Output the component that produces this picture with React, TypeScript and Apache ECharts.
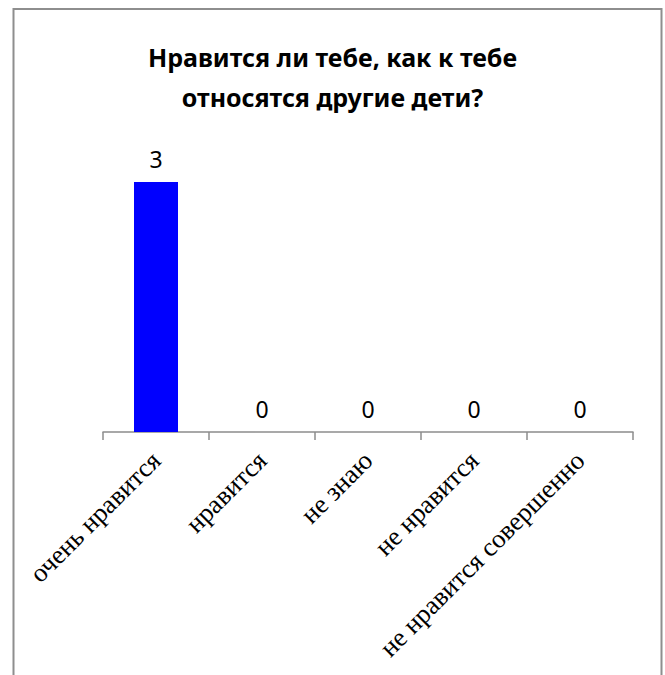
import React, { useEffect, useRef } from "react";
import * as echarts from "echarts";

const titleLines = ["Нравится ли тебе, как к тебе", "относятся другие дети?"];
const categories = ["очень нравится", "нравится", "не знаю", "не нравится", "не нравится совершенно"];
const values = [3, 0, 0, 0, 0];

export default function App() {
  const ref = useRef<HTMLDivElement>(null);
  useEffect(() => {
    document.body.style.margin = "0";
    const chart = echarts.init(ref.current!, null, { renderer: "svg" });
    chart.setOption({
      animation: false,
      backgroundColor: "#ffffff",
      title: {
        text: titleLines.join("\n"),
        left: "center",
        top: 32,
        textStyle: {
          fontFamily: "Noto Sans",
          fontWeight: "bold",
          fontSize: 25,
          lineHeight: 40,
          color: "#000000",
        },
      },
      graphic: [
        {
          type: "rect",
          shape: { x: 13.5, y: 9, width: 648, height: 700 },
          style: { fill: "none", stroke: "#8e8e8e", lineWidth: 2 },
          silent: true,
        },
      ],
      grid: { left: 103, right: 32, top: 182, bottom: 243, containLabel: false },
      xAxis: {
        type: "category",
        data: categories,
        boundaryGap: true,
        axisLine: { show: true, lineStyle: { color: "#8c8c8c", width: 1.5 } },
        axisTick: { show: true, alignWithLabel: false, length: 8, lineStyle: { color: "#8c8c8c", width: 1.5 } },
        axisLabel: {
          rotate: 45,
          interval: 0,
          margin: 24,
          fontFamily: "Liberation Serif",
          fontSize: 26.5,
          color: "#000000",
        },
        splitLine: { show: false },
      },
      yAxis: {
        type: "value",
        min: 0,
        max: 3,
        show: false,
        splitLine: { show: false },
      },
      series: [
        {
          type: "bar",
          data: values,
          barWidth: 44,
          itemStyle: { color: "#0000ff" },
          label: {
            show: true,
            position: "top",
            distance: 12,
            fontFamily: "Noto Sans",
            fontSize: 23,
            color: "#000000",
          },
        },
      ],
    });
    return () => chart.dispose();
  }, []);
  return <div ref={ref} style={{ width: 665, height: 675 }} />;
}
